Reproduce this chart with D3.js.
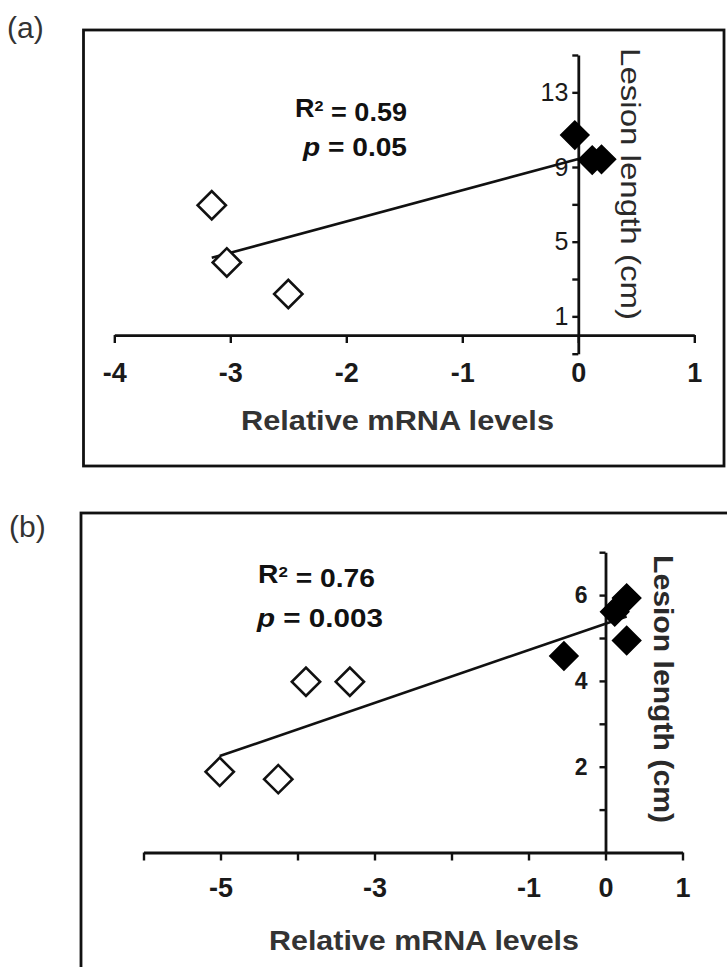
<!DOCTYPE html>
<html>
<head>
<meta charset="utf-8">
<script src="https://cdn.jsdelivr.net/npm/d3@7"></script>
<style>
  body { margin: 0; background: #fff; }
  svg { display: block; font-family: "Liberation Sans", Arial, sans-serif; }
</style>
</head>
<body>
<svg id="chart" width="727" height="967"></svg>
<script>
// panel (a) data
var openA_x = [-3.16, -3.03, -2.50];
var openA_y = [6.95, 3.89, 2.20];
var filledA_x = [-0.03, 0.12, 0.20];
var filledA_y = [10.71, 9.37, 9.41];
var xTicksA = [-4, -3, -2, -1, 0, 1];
var xLabelsA = [-4, -3, -2, -1, 0, 1];
var yTicksA = [-1, 1, 3, 5, 7, 9, 11, 13, 15];
var yLabelsA = [1, 5, 9, 13];
var statsA = ["0.59", "0.05"];

// panel (b) data
var openB_x = [-3.89, -3.32, -5.01, -4.25];
var openB_y = [3.98, 3.98, 1.88, 1.71];
var filledB_x = [-0.54, 0.275, 0.12, 0.275];
var filledB_y = [4.58, 5.93, 5.61, 4.94];
var xTicksB = [-6, -5, -4, -3, -2, -1, 0, 1];
var xLabelsB = [-5, -3, -1, 0, 1];
var yTicksB = [1, 2, 3, 4, 5, 6, 7];
var yLabelsB = [2, 4, 6];
var statsB = ["0.76", "0.003"];

var xTitle = "Relative mRNA levels";
var yTitle = "Lesion length (cm)";

var svg = d3.select("#chart");
svg.append("rect").attr("width", 727).attr("height", 967).attr("fill", "#fff");

function fit(xs, ys) {
  var mx = d3.mean(xs), my = d3.mean(ys);
  var sxy = d3.sum(xs, function(x, i) { return (x - mx) * (ys[i] - my); });
  var sxx = d3.sum(xs, function(x) { return (x - mx) * (x - mx); });
  var b = sxy / sxx;
  return function(x) { return my + b * (x - mx); };
}

function drawPanel(cfg) {
  var g = svg.append("g");

  // panel letter
  g.append("text")
    .attr("x", cfg.letterX).attr("y", cfg.letterY)
    .style("font-size", "30px").style("fill", "#333")
    .text(cfg.letter);

  // frame
  g.append("rect")
    .attr("x", cfg.box[0]).attr("y", cfg.box[1])
    .attr("width", cfg.box[2]).attr("height", cfg.box[3])
    .attr("fill", "none").attr("stroke", "#111").attr("stroke-width", 2.8);

  var x = d3.scaleLinear().domain(cfg.xDomain).range(cfg.xRange);
  var y = d3.scaleLinear().domain(cfg.yDomain).range(cfg.yRange);

  // x axis along y = 0
  var xAxis = d3.axisBottom(x)
    .tickValues(cfg.xTicks)
    .tickSize(8).tickSizeOuter(0)
    .tickPadding(cfg.xPad)
    .tickFormat(function(d) { return cfg.xLabels.indexOf(d) >= 0 ? d : ""; });
  var gx = g.append("g")
    .attr("transform", "translate(0," + y(0) + ")")
    .call(xAxis);

  // y axis along x = 0
  var yAxis = d3.axisLeft(y)
    .tickValues(cfg.yTicks)
    .tickSize(6).tickSizeOuter(0)
    .tickPadding(cfg.yPad)
    .tickFormat(function(d) { return cfg.yLabels.indexOf(d) >= 0 ? d : ""; });
  var gy = g.append("g")
    .attr("transform", "translate(" + x(0) + ",0)")
    .call(yAxis);

  [gx, gy].forEach(function(ax) {
    ax.select(".domain").attr("stroke", "#111").attr("stroke-width", 2.8);
    ax.selectAll(".tick line").attr("stroke", "#111").attr("stroke-width", 2.4);
    ax.selectAll(".tick text")
      .attr("fill", "#1a1a1a")
      .style("font-family", '"Liberation Sans", Arial, sans-serif');
  });
  gx.selectAll(".tick text").style("font-size", "27px").style("font-weight", "bold");
  gy.selectAll(".tick text").style("font-size", cfg.yFont + "px").style("font-weight", cfg.yWeight);

  // regression line over all points
  var allX = cfg.openX.concat(cfg.filledX);
  var allY = cfg.openY.concat(cfg.filledY);
  var f = fit(allX, allY);
  var x0 = d3.min(allX), x1 = d3.max(allX);
  g.append("line")
    .attr("x1", x(x0)).attr("y1", y(f(x0)))
    .attr("x2", x(x1)).attr("y2", y(f(x1)))
    .attr("stroke", "#111").attr("stroke-width", 2.6);

  var diamond = d3.symbol().type(d3.symbolSquare).size(400);

  g.selectAll(".open")
    .data(cfg.openX.map(function(v, i) { return [v, cfg.openY[i]]; }))
    .enter().append("path")
      .attr("class", "open")
      .attr("d", diamond)
      .attr("transform", function(d) { return "translate(" + x(d[0]) + "," + y(d[1]) + ") rotate(45)"; })
      .attr("fill", "#fff").attr("stroke", "#111").attr("stroke-width", 2.6);

  g.selectAll(".filled")
    .data(cfg.filledX.map(function(v, i) { return [v, cfg.filledY[i]]; }))
    .enter().append("path")
      .attr("class", "filled")
      .attr("d", diamond)
      .attr("transform", function(d) { return "translate(" + x(d[0]) + "," + y(d[1]) + ") rotate(45)"; })
      .attr("fill", "#000").attr("stroke", "#000").attr("stroke-width", 1.5);

  // statistics
  var r2 = g.append("text")
    .attr("x", cfg.statX).attr("y", cfg.r2Y)
    .attr("textLength", cfg.r2Len).attr("lengthAdjust", "spacingAndGlyphs")
    .style("font-size", "25px").style("font-weight", "bold").style("fill", "#111");
  r2.append("tspan").text("R");
  r2.append("tspan").attr("dy", "-0.42em").style("font-size", "15px").text("2");
  r2.append("tspan").attr("dy", "0.42em").text(" = " + cfg.stats[0]);

  var pt = g.append("text")
    .attr("x", cfg.pX).attr("y", cfg.pY)
    .attr("textLength", cfg.pLen).attr("lengthAdjust", "spacingAndGlyphs")
    .style("font-size", "25px").style("font-weight", "bold").style("fill", "#111");
  pt.append("tspan").style("font-style", "italic").text("p");
  pt.append("tspan").text(" = " + cfg.stats[1]);

  // axis titles
  g.append("text")
    .attr("x", cfg.xTitleX).attr("y", cfg.xTitleY)
    .attr("text-anchor", "middle")
    .attr("textLength", cfg.xTitleLen).attr("lengthAdjust", "spacingAndGlyphs")
    .style("font-size", "28px").style("font-weight", "bold").style("fill", "#333")
    .text(xTitle);

  g.append("text")
    .attr("transform", "translate(" + cfg.yTitleX + "," + cfg.yTitleY + ") rotate(90)")
    .attr("text-anchor", "middle").attr("dy", "0.3em")
    .attr("textLength", cfg.yTitleLen).attr("lengthAdjust", "spacingAndGlyphs")
    .style("font-size", "28px").style("font-weight", cfg.yTitleWeight).style("fill", "#2a2a2a")
    .text(yTitle);
}

drawPanel({
  letter: "(a)", letterX: 7, letterY: 38,
  box: [83.5, 30, 640.5, 436],
  xDomain: [-4, 1], xRange: [114.3, 694.3],
  yDomain: [-1, 15], yRange: [353.7, 55],
  xTicks: xTicksA, xLabels: xLabelsA, xPad: 20,
  yTicks: yTicksA, yLabels: yLabelsA, yPad: 4, yFont: 25, yWeight: "normal",
  openX: openA_x, openY: openA_y, filledX: filledA_x, filledY: filledA_y,
  stats: statsA, statX: 295, r2Y: 117, r2Len: 112, pX: 303, pY: 156, pLen: 104,
  xTitleX: 397.5, xTitleY: 430, xTitleLen: 313,
  yTitleX: 629, yTitleY: 184, yTitleLen: 272, yTitleWeight: "normal"
});

drawPanel({
  letter: "(b)", letterX: 9, letterY: 537,
  box: [81, 513, 700, 500],
  xDomain: [-6, 1], xRange: [143.5, 682.5],
  yDomain: [0, 7], yRange: [852.5, 552.2],
  xTicks: xTicksB, xLabels: xLabelsB, xPad: 17,
  yTicks: yTicksB, yLabels: yLabelsB, yPad: 12, yFont: 23, yWeight: "bold",
  openX: openB_x, openY: openB_y, filledX: filledB_x, filledY: filledB_y,
  stats: statsB, statX: 258, r2Y: 583, r2Len: 117, pX: 257, pY: 627, pLen: 126,
  xTitleX: 424, xTitleY: 950, xTitleLen: 310,
  yTitleX: 662, yTitleY: 689, yTitleLen: 268, yTitleWeight: "bold"
});
</script>
</body>
</html>
